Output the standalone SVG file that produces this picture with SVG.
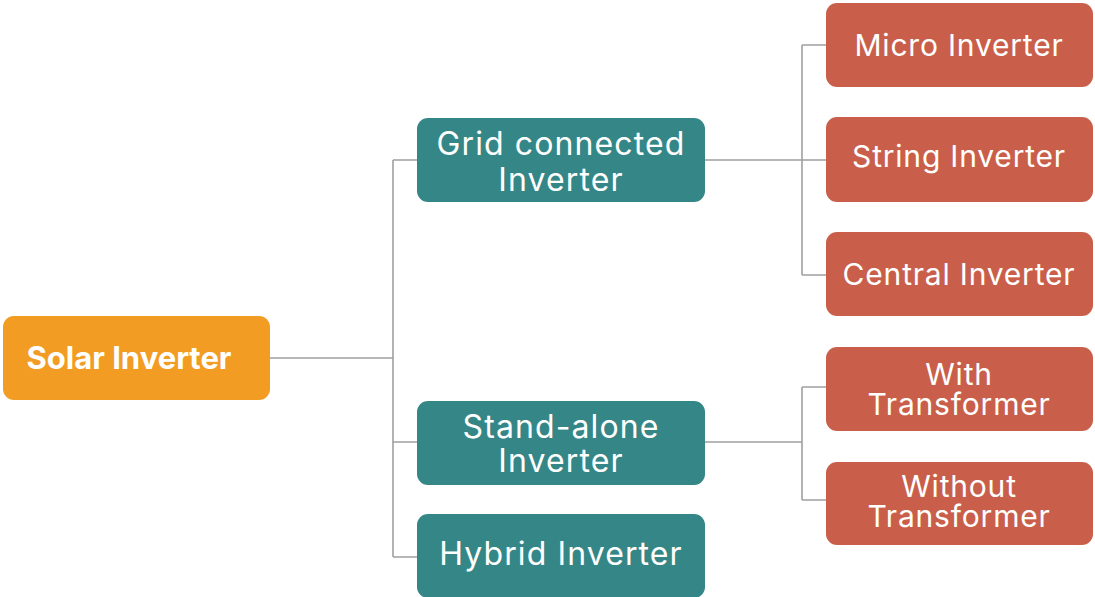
<svg xmlns="http://www.w3.org/2000/svg" width="1095" height="597" viewBox="0 0 1095 597">
<style>
.root{fill:#F39C23}
.mid{fill:#358787}
.leaf{fill:#C95F4A}
text{font-family:Inter,"Noto Sans",sans-serif;fill:#fff;text-anchor:middle;font-size:32px;letter-spacing:1.1px}
.l{font-size:30px;letter-spacing:0.8px}
.b{font-weight:700;font-size:31px;letter-spacing:0}
.c{fill:none;stroke:#a0a0a0;stroke-width:1.6}
</style>
<g id="connectors">
<path class="c" d="M270 358H393M393 160V557M393 160H417M393 442H417M393 557H417"/>
<path class="c" d="M705 160H802M802 45V275M802 45H826M802 160H826M802 275H826"/>
<path class="c" d="M705 442H802M802 387V500M802 387H826M802 500H826"/>
</g>
<g id="n-solar"><rect class="root" x="3" y="316" width="267" height="84" rx="11"/><text class="b" x="129" y="369">Solar Inverter</text></g>
<g id="n-grid"><rect class="mid" x="417" y="118" width="288" height="84" rx="11"/><text x="561" y="155">Grid connected</text><text x="561" y="191">Inverter</text></g>
<g id="n-stand"><rect class="mid" x="417" y="401" width="288" height="84" rx="11"/><text x="561" y="438">Stand-alone</text><text x="561" y="472">Inverter</text></g>
<g id="n-hybrid"><rect class="mid" x="417" y="514" width="288" height="84" rx="11"/><text x="561" y="565">Hybrid Inverter</text></g>
<g id="n-micro"><rect class="leaf" x="826" y="3" width="267" height="84" rx="11"/><text class="l" x="959" y="56">Micro Inverter</text></g>
<g id="n-string"><rect class="leaf" x="826" y="117" width="267" height="85" rx="11"/><text class="l" x="959" y="167">String Inverter</text></g>
<g id="n-central"><rect class="leaf" x="826" y="232" width="267" height="84" rx="11"/><text class="l" x="959" y="285">Central Inverter</text></g>
<g id="n-with"><rect class="leaf" x="826" y="347" width="267" height="84" rx="11"/><text class="l" x="959" y="385">With</text><text class="l" x="959" y="415">Transformer</text></g>
<g id="n-without"><rect class="leaf" x="826" y="462" width="267" height="83" rx="11"/><text class="l" x="959" y="497">Without</text><text class="l" x="959" y="527">Transformer</text></g>
</svg>
